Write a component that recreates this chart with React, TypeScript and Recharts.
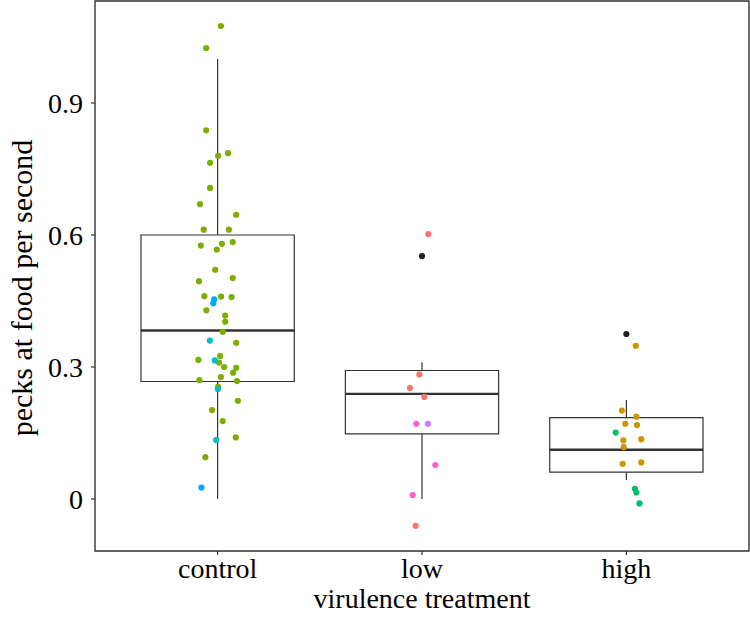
import React from 'react';
import {
  ComposedChart,
  Scatter,
  XAxis,
  YAxis,
  ReferenceArea,
  ReferenceLine,
} from 'recharts';

// Categories and tick labels
const categories = ['control', 'low', 'high'];
const yTicks = [0, 0.3, 0.6, 0.9];

// Box statistics per category (index 0..2)
const whiskerLow = [0, 0, 0.043];
const q1 = [0.267, 0.148, 0.061];
const median = [0.383, 0.239, 0.112];
const q3 = [0.6, 0.292, 0.185];
const whiskerHigh = [1.0, 0.311, 0.225];

// Jittered points (x in category units, y = pecks per second)
const controlGreen = [
  { x: 1.016, y: 1.075 }, { x: 0.944, y: 1.025 }, { x: 0.944, y: 0.838 },
  { x: 1.051, y: 0.786 }, { x: 1.002, y: 0.78 }, { x: 0.963, y: 0.764 },
  { x: 0.963, y: 0.707 }, { x: 0.914, y: 0.67 }, { x: 1.091, y: 0.646 },
  { x: 0.932, y: 0.612 }, { x: 1.055, y: 0.612 }, { x: 1.074, y: 0.584 },
  { x: 1.021, y: 0.58 }, { x: 0.918, y: 0.576 }, { x: 0.996, y: 0.567 },
  { x: 0.988, y: 0.521 }, { x: 1.074, y: 0.502 }, { x: 0.909, y: 0.495 },
  { x: 0.935, y: 0.461 }, { x: 1.017, y: 0.46 }, { x: 1.068, y: 0.459 },
  { x: 0.945, y: 0.429 }, { x: 1.037, y: 0.417 }, { x: 1.037, y: 0.403 },
  { x: 1.025, y: 0.38 }, { x: 1.091, y: 0.355 }, { x: 1.012, y: 0.325 },
  { x: 0.906, y: 0.316 }, { x: 1.007, y: 0.31 }, { x: 1.032, y: 0.3 },
  { x: 1.091, y: 0.298 }, { x: 1.076, y: 0.287 }, { x: 1.016, y: 0.277 },
  { x: 0.911, y: 0.27 }, { x: 1.095, y: 0.268 }, { x: 1.002, y: 0.255 },
  { x: 1.099, y: 0.223 }, { x: 0.973, y: 0.202 }, { x: 1.025, y: 0.177 },
  { x: 1.089, y: 0.14 }, { x: 0.94, y: 0.095 },
];
const controlBlue = [
  { x: 0.983, y: 0.454 }, { x: 0.979, y: 0.445 }, { x: 0.921, y: 0.026 },
];
const controlCyan = [
  { x: 0.962, y: 0.36 }, { x: 0.986, y: 0.315 }, { x: 1.001, y: 0.25 }, { x: 0.993, y: 0.134 },
];
const lowRed = [
  { x: 2.031, y: 0.602 }, { x: 1.987, y: 0.283 }, { x: 1.941, y: 0.252 },
  { x: 2.011, y: 0.232 }, { x: 1.969, y: -0.061 },
];
const lowPink = [
  { x: 1.972, y: 0.171 }, { x: 2.065, y: 0.077 }, { x: 1.954, y: 0.009 },
];
const lowPurple = [{ x: 2.029, y: 0.171 }];
const highGold = [
  { x: 3.046, y: 0.348 }, { x: 2.978, y: 0.201 }, { x: 3.049, y: 0.187 },
  { x: 2.995, y: 0.171 }, { x: 3.052, y: 0.168 }, { x: 2.985, y: 0.133 },
  { x: 3.073, y: 0.136 }, { x: 2.987, y: 0.118 }, { x: 2.982, y: 0.08 },
  { x: 3.073, y: 0.083 },
];
const highGreen = [
  { x: 2.948, y: 0.151 }, { x: 3.042, y: 0.023 }, { x: 3.049, y: 0.015 }, { x: 3.064, y: -0.01 },
];
const outliers = [
  { x: 2.0, y: 0.552 }, { x: 3.0, y: 0.375 },
];

const X_DOMAIN: [number, number] = [0.4, 3.6];
const Y_DOMAIN: [number, number] = [-0.1182, 1.1318];
const BOX_HALF = 0.375;
const LINE = '#333333';
const FONT = '"Liberation Serif", "Times New Roman", serif';

const dot = (color: string) => (props: any) => {
  if (props.cx == null || props.cy == null) return <g />;
  return <circle cx={props.cx} cy={props.cy} r={3.1} fill={color} />;
};

const series: { data: { x: number; y: number }[]; color: string; name: string }[] = [
  { data: outliers, color: '#222222', name: 'outliers' },
  { data: controlGreen, color: '#7CAE00', name: 'cg' },
  { data: controlBlue, color: '#00A9FF', name: 'cb' },
  { data: controlCyan, color: '#00BFC4', name: 'cc' },
  { data: lowRed, color: '#F8766D', name: 'lr' },
  { data: lowPink, color: '#FF61CC', name: 'lp' },
  { data: lowPurple, color: '#C77CFF', name: 'lu' },
  { data: highGold, color: '#CD9600', name: 'hg' },
  { data: highGreen, color: '#00BE67', name: 'hn' },
];

const YTitle = (props: any) => {
  const vb = props.viewBox || { x: 0, y: 0, width: 95, height: 550 };
  const x = vb.x + 32;
  const y = vb.y + vb.height / 2 + 12;
  return (
    <text
      x={x}
      y={y}
      transform={`rotate(-90, ${x}, ${y})`}
      textAnchor="middle"
      fontFamily={FONT}
      fontSize={30}
      fill="#000"
    >
      pecks at food per second
    </text>
  );
};

const XTitle = (props: any) => {
  const vb = props.viewBox || { x: 95, y: 551, width: 654, height: 67 };
  const x = vb.x + vb.width / 2;
  const y = vb.y + 57;
  return (
    <text x={x} y={y} textAnchor="middle" fontFamily={FONT} fontSize={28} fill="#000">
      virulence treatment
    </text>
  );
};

export default function App() {
  return (
    <div style={{ position: 'absolute', left: 0, top: 0, background: '#fff' }}>
      <ComposedChart
        width={750}
        height={618}
        margin={{ top: 1, right: 1, bottom: 0, left: 0 }}
      >
        <XAxis
          type="number"
          dataKey="x"
          domain={X_DOMAIN}
          ticks={[1, 2, 3]}
          tickFormatter={(v: number) => categories[Math.round(v) - 1] ?? ''}
          allowDataOverflow
          height={67}
          axisLine={false}
          tickSize={4}
          tickMargin={3}
          tickLine={{ stroke: LINE, strokeWidth: 1.2 }}
          tick={{ fill: '#000', fontSize: 28, fontFamily: FONT }}
          label={<XTitle />}
        />
        <YAxis
          type="number"
          dataKey="y"
          domain={Y_DOMAIN}
          ticks={yTicks}
          tickFormatter={(v: number) => (v === 0 ? '0' : v.toFixed(1))}
          allowDataOverflow
          width={95}
          axisLine={false}
          tickSize={4}
          tickMargin={8}
          tickLine={{ stroke: LINE, strokeWidth: 1.2 }}
          tick={{ fill: '#000', fontSize: 28, fontFamily: FONT }}
          label={<YTitle />}
        />
        {categories.map((c, i) => (
          <ReferenceLine
            key={`wl-${c}`}
            segment={[{ x: i + 1, y: whiskerLow[i] }, { x: i + 1, y: q1[i] }]}
            stroke={LINE}
            strokeWidth={1.2}
            ifOverflow="visible"
          />
        ))}
        {categories.map((c, i) => (
          <ReferenceLine
            key={`wh-${c}`}
            segment={[{ x: i + 1, y: q3[i] }, { x: i + 1, y: whiskerHigh[i] }]}
            stroke={LINE}
            strokeWidth={1.2}
            ifOverflow="visible"
          />
        ))}
        {categories.map((c, i) => (
          <ReferenceArea
            key={`box-${c}`}
            x1={i + 1 - BOX_HALF}
            x2={i + 1 + BOX_HALF}
            y1={q1[i]}
            y2={q3[i]}
            fill="none"
            fillOpacity={0}
            stroke={LINE}
            strokeWidth={1.2}
            ifOverflow="visible"
          />
        ))}
        {categories.map((c, i) => (
          <ReferenceLine
            key={`med-${c}`}
            segment={[{ x: i + 1 - BOX_HALF, y: median[i] }, { x: i + 1 + BOX_HALF, y: median[i] }]}
            stroke={LINE}
            strokeWidth={2.4}
            ifOverflow="visible"
          />
        ))}
        {series.map((s) => (
          <Scatter
            key={s.name}
            name={s.name}
            data={s.data}
            dataKey="y"
            fill={s.color}
            shape={dot(s.color)}
            isAnimationActive={false}
          />
        ))}
        <ReferenceArea
          x1={X_DOMAIN[0]}
          x2={X_DOMAIN[1]}
          y1={Y_DOMAIN[0]}
          y2={Y_DOMAIN[1]}
          fill="none"
          fillOpacity={0}
          stroke={LINE}
          strokeWidth={1.4}
          ifOverflow="visible"
        />
      </ComposedChart>
    </div>
  );
}
